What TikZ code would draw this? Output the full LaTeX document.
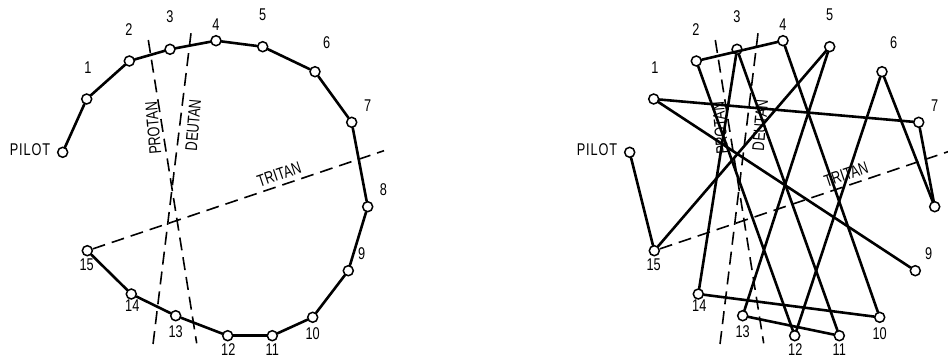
\documentclass[tikz,border=0pt]{standalone}
\usepackage{fontspec}
\newfontfamily\capfont[FakeStretch=0.75]{Liberation Sans}
\tikzset{
	capring/.style={circle,draw,fill=white,line width=1.5pt,minimum size=10pt,inner sep=0pt},
	capline/.style={line width=2.6pt,line cap=round},
	axisline/.style={line width=1.6pt,dash pattern=on 13pt off 7pt},
	num/.style={font=\capfont\fontsize{17}{17}\selectfont,inner sep=0pt}
}
\begin{document}
\begin{tikzpicture}[x=1pt,y=-1pt]
	\useasboundingbox (0,0) rectangle (948,362);
	
	\foreach \s/\dx in {L/0,R/567}{
		\begin{scope}[xshift=\dx]
			\node[capring] (\s0) at (62.7,152.3) {};
			\foreach \n/\x/\y in {1/86.7/99,2/129.3/61,3/170/49.3,4/216/40.7,5/262.7/46.7,6/315/71.7,7/351.7/122.3,8/367.7/206.7,
				9/348.3/270.7,10/312.7/317.3,11/272.3/335.7,12/227.7/335.7,13/175.7/315.7,14/131.3/294,15/87.3/250.7}
				\node[capring] (\s\n) at (\x,\y) {};
			\node[num] (\s pilotn) at (30,150) {\addfontfeature{LetterSpace=5}PILOT};
			
			\coordinate (\s pt) at (148.3,40);
			\coordinate (\s pb) at (196.7,343.3);
			\coordinate (\s dt) at (191,33.3);
			\coordinate (\s db) at (152.7,346.7);
			\coordinate (\s tr) at (384,150.7);
			\draw[axisline] (\s pt) -- (\s pb);
			\draw[axisline] (\s dt) -- (\s db);
			\draw[axisline] (\s15) -- (\s tr);
			\node[num,rotate=95] (\s protan) at (153.3,128.3) {PROTAN};
			\node[num,rotate=85] (\s deutan) at (193.3,125) {DEUTAN};
			\node[num,rotate=18.6,anchor=south] (\s tritan) at (281,180) {TRITAN};
		\end{scope}
	}
	
	\foreach \n/\x/\y in {1/88/68,2/129/30,3/170/17,4/216/25,5/262.7/15,6/326.7/42.7,7/367.7/106,8/383.3/190,
		9/361.7/253.3,10/312.7/333.3,11/272.3/350,12/228.3/350,13/175.7/331.7,14/132.3/306,15/86.7/265}
		\node[num] (L\n n) at (\x,\y) {\n};
	\begin{scope}[xshift=567]
		\foreach \n/\x/\y in {1/88/68,2/129/30,3/170/17,4/216/25,5/262.7/15,6/326.7/42.7,7/367.7/106,
			9/361.7/253.3,10/312.7/333.3,11/272.3/350,12/228.3/350,13/175.7/331.7,14/132.3/306,15/86.7/265}
			\node[num] (R\n n) at (\x,\y) {\n};
	\end{scope}
	
	\foreach \a/\b in {0/1,1/2,2/3,3/4,4/5,5/6,6/7,7/8,8/9,9/10,10/11,11/12,12/13,13/14,14/15}
		\draw[capline] (L\a) -- (L\b);
	\foreach \a/\b in {0/15,15/5,5/13,13/11,11/3,3/14,14/10,10/4,4/2,2/12,12/6,6/8,8/7,7/1,1/9}
		\draw[capline] (R\a) -- (R\b);
\end{tikzpicture}
\end{document}
